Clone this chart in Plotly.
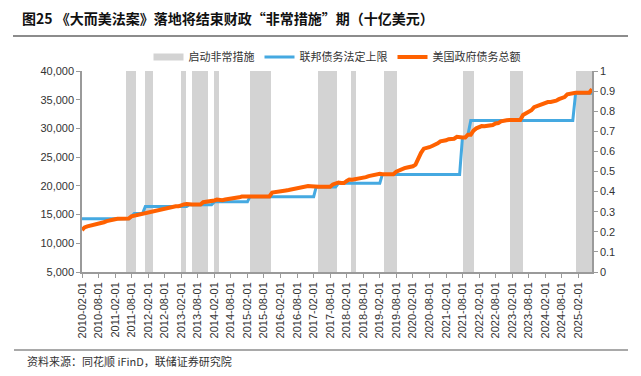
import pandas as pd
import plotly.graph_objects as go

# ---------------- data ----------------
START_MONTH = "2010-02-01"

# US total public debt outstanding, monthly, 2010-02 .. 2025-07 (billion USD)
DEBT = [
    # 2010 (Feb-Dec)
    12300, 12773, 12948, 13050, 13202, 13239, 13450, 13562, 13668, 13861, 14025,
    # 2011
    14133, 14195, 14270, 14290, 14294, 14294, 14294, 14684, 14790, 14974, 15102, 15223,
    # 2012
    15356, 15487, 15582, 15692, 15770, 15856, 15902, 16016, 16066, 16261, 16370, 16433,
    # 2013
    16433, 16687, 16771, 16829, 16739, 16738, 16738, 16738, 16738, 17156, 17217, 17352,
    # 2014
    17293, 17463, 17601, 17508, 17517, 17633, 17687, 17750, 17824, 17937, 18005, 18141,
    # 2015
    18082, 18156, 18152, 18153, 18153, 18152, 18151, 18151, 18151, 18153, 18827, 18922,
    # 2016
    19013, 19126, 19264, 19188, 19265, 19381, 19428, 19511, 19573, 19805, 19948, 19977,
    # 2017
    19937, 19959, 19846, 19846, 19846, 19845, 19845, 19845, 20245, 20443, 20590, 20493,
    # 2018
    20494, 20856, 21090, 21068, 21145, 21195, 21313, 21458, 21516, 21702, 21850, 21974,
    # 2019
    21982, 22115, 22028, 22027, 22026, 22023, 22022, 22460, 22719, 23008, 23076, 23201,
    # 2020
    23223, 23410, 23686, 24975, 25747, 26477, 26525, 26728, 26945, 27146, 27396, 27748,
    # 2021
    27801, 27947, 28133, 28175, 28201, 28529, 28427, 28428, 28428, 28908, 28908, 29617,
    # 2022
    30012, 30290, 30401, 30371, 30400, 30568, 30595, 30861, 30929, 31237, 31419, 31420,
    # 2023
    31455, 31463, 31458, 31458, 31464, 32333, 32608, 32914, 33167, 33698, 33878, 34001,
    # 2024
    34200, 34467, 34586, 34617, 34672, 34832, 35096, 35264, 35465, 35950, 36088, 36218,
    # 2025 (Jan-Jul)
    36216, 36217, 36218, 36214, 36214, 36212, 36850,
]

# Statutory debt limit: month in which each new level takes effect
CEIL_MONTHS = ["2010-02-01", "2011-08-01", "2011-09-01", "2012-01-01", "2013-05-01",
               "2014-02-01", "2015-03-01", "2017-03-01", "2017-11-01", "2019-03-01",
               "2021-08-01", "2021-10-01", "2021-11-01", "2025-01-01"]
CEIL_VALUES = [14294, 14694, 15194, 16394, 16699,
               17212, 18113, 19809, 20456, 21988,
               28401, 28881, 31381, 36104]

# Extraordinary-measures periods (shaded)
EM_START = ["2011-06-01", "2012-01-01", "2013-02-01", "2013-06-01", "2014-01-25", "2015-03-01",
            "2017-03-20", "2018-03-20", "2019-03-15", "2021-08-05", "2023-01-10", "2025-01-05"]
EM_END = ["2011-09-25", "2012-03-25", "2013-03-20", "2013-11-20", "2014-03-20", "2015-10-20",
          "2017-10-15", "2018-05-15", "2019-08-10", "2021-12-05", "2023-06-01", "2025-07-01"]

LEFT_TICKS = [5000, 10000, 15000, 20000, 25000, 30000, 35000, 40000]
RIGHT_TICKS = [0, 0.1, 0.2, 0.3, 0.4, 0.5, 0.6, 0.7, 0.8, 0.9, 1]

TITLE = "图25 《大而美法案》落地将结束财政“非常措施”期（十亿美元）"
SOURCE = "资料来源：同花顺 iFinD，联储证券研究院"
NAMES = ["启动非常措施", "联邦债务法定上限", "美国政府债务总额"]

# ---------------- build ----------------
months = pd.date_range(START_MONTH, periods=len(DEBT), freq="MS")
ceil = (pd.Series(CEIL_VALUES, index=pd.to_datetime(CEIL_MONTHS))
        .reindex(months, method="ffill"))

em_s = pd.to_datetime(EM_START)
em_e = pd.to_datetime(EM_END)
em_mid = em_s + (em_e - em_s) / 2
em_w = [(e - s).total_seconds() * 1000 for s, e in zip(em_s, em_e)]

FONT = "Arial, Liberation Sans, Noto Sans CJK SC, sans-serif"
CJK = "Noto Sans CJK SC, sans-serif"
GRAY = "#d3d3d3"
BLUE = "#45a9e1"
ORANGE = "#ff6100"
AX = "#9a9a9a"

fig = go.Figure()

# shaded bars on the (right) 0-1 axis
fig.add_trace(go.Bar(x=em_mid, y=[1] * len(em_mid), width=em_w, base=0,
                     marker=dict(color=GRAY, line=dict(width=0)),
                     yaxis="y", showlegend=False, hoverinfo="skip"))
# legend-only entry for shading
fig.add_trace(go.Scatter(x=[None], y=[None], mode="lines", name=NAMES[0],
                         line=dict(color=GRAY, width=7), yaxis="y2"))
fig.add_trace(go.Scatter(x=months, y=ceil.values, mode="lines", name=NAMES[1],
                         line=dict(color=BLUE, width=3), yaxis="y2"))
fig.add_trace(go.Scatter(x=months, y=DEBT, mode="lines", name=NAMES[2],
                         line=dict(color=ORANGE, width=4), yaxis="y2"))

fig.update_layout(
    width=641, height=376,
    margin=dict(l=82, r=49, t=71, b=104),
    paper_bgcolor="white", plot_bgcolor="white",
    font=dict(family=FONT, size=11, color="#333333"),
    bargap=0,
    title=dict(text=TITLE, x=22 / 641, xanchor="left", y=1 - 19 / 376, yanchor="middle",
               font=dict(family=CJK, size=14, color="#111111", weight="bold")),
    legend=dict(orientation="h", x=0.5, xanchor="center", y=(272 - 57) / 201, yanchor="middle",
                font=dict(family=CJK, size=11, color="#333333"),
                bgcolor="rgba(0,0,0,0)", itemwidth=30, tracegroupgap=0),
    xaxis=dict(type="date", range=[months[0], months[-1]],
               tick0=START_MONTH, dtick="M6", tickformat="%Y-%m-%d", tickangle=-90,
               ticks="outside", ticklen=4, tickcolor=AX,
               showline=True, linecolor=AX, linewidth=1.5, showgrid=False, zeroline=False,
               tickfont=dict(size=11, color="#333333")),
    yaxis=dict(side="right", range=[0, 1], tickvals=RIGHT_TICKS,
               ticktext=[f"{v:g}" for v in RIGHT_TICKS],
               ticks="outside", ticklen=4, tickcolor=AX,
               showline=True, linecolor=AX, linewidth=1.5, showgrid=False, zeroline=False,
               tickfont=dict(size=11, color="#333333")),
    yaxis2=dict(side="left", overlaying="y", range=[5000, 40000], tickvals=LEFT_TICKS,
                ticktext=[f"{v:,}" for v in LEFT_TICKS],
                ticks="outside", ticklen=4, tickcolor=AX,
                showline=True, linecolor=AX, linewidth=1.5, showgrid=False, zeroline=False,
                tickfont=dict(size=11, color="#333333")),
)

# separator lines and source note
fig.add_shape(type="line", xref="paper", yref="paper",
              x0=(13 - 82) / 510, x1=(628 - 82) / 510, y0=(272 - 36) / 201, y1=(272 - 36) / 201,
              line=dict(color="#8c8c8c", width=2))
fig.add_shape(type="line", xref="paper", yref="paper",
              x0=(14 - 82) / 510, x1=(628 - 82) / 510, y0=(272 - 350) / 201, y1=(272 - 350) / 201,
              line=dict(color="#8c8c8c", width=1.5))
fig.add_annotation(text=SOURCE, xref="paper", yref="paper",
                   x=(25 - 82) / 510, y=(272 - 361) / 201, xanchor="left", yanchor="middle",
                   showarrow=False, font=dict(family=CJK, size=11, color="#333333"))

fig.write_html("out.html", config={"displayModeBar": False},
               post_script="document.body.style.margin='0px';document.body.style.padding='0px';")
